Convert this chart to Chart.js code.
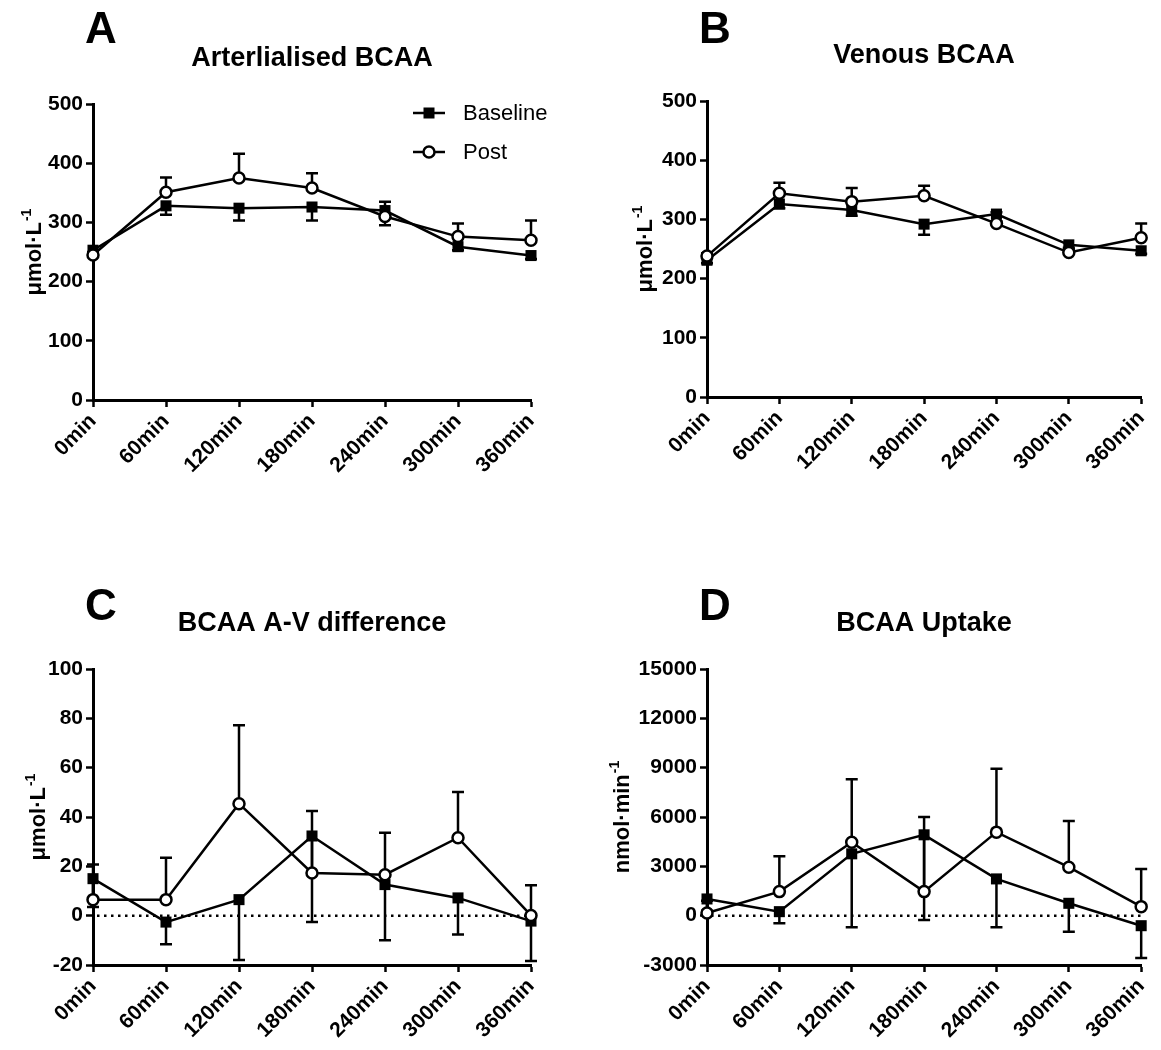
<!DOCTYPE html>
<html lang="en">
<head>
<meta charset="UTF-8">
<title>BCAA</title>
<script src="https://cdn.jsdelivr.net/npm/chart.js"></script>
<style>
    body { margin: 0; background: #fff; }
    #wrap { position: relative; width: 1161px; height: 1050px; }
    canvas { position: absolute; }
</style>
</head>
<body>
<div id="wrap">
    <canvas id="chartA" width="580" height="525" style="left:0;top:0"></canvas>
    <canvas id="chartB" width="581" height="525" style="left:580px;top:0"></canvas>
    <canvas id="chartC" width="580" height="525" style="left:0;top:525px"></canvas>
    <canvas id="chartD" width="581" height="525" style="left:580px;top:525px"></canvas>
</div>
<script>
const timeLabels = ['0min', '60min', '120min', '180min', '240min', '300min', '360min'];

// A - arterialised BCAA (umol/L); Baseline bars go down, Post bars go up
const artBase = [253, 328, 324, 326, 320, 259, 244];
const artBaseLow = [247, 313, 303, 303, 295, 253, 238];
const artPost = [245, 351, 375, 358, 310, 276, 270];
const artPostHigh = [250, 376, 416, 383, 335, 298, 303];

// B - venous BCAA
const venBase = [231, 326, 316, 292, 309, 257, 247];
const venBaseLow = [226, 319, 306, 274, 297, 250, 242];
const venPost = [238, 344, 330, 340, 293, 244, 269];
const venPostHigh = [243, 362, 353, 357, 312, 252, 293];

// C - A-V difference
const avBase = [15, -2.6, 6.5, 32.3, 12.6, 7.2, -2.2];
const avBaseLow = [3.5, -11.6, -18, -2.6, -10, -7.6, -18.4];
const avPost = [6.5, 6.5, 45.4, 17.3, 16.6, 31.6, 0.1];
const avPostHigh = [20.7, 23.5, 77.2, 42.4, 33.6, 50.1, 12.3];

// D - uptake (nmol/min)
const upBase = [1016, 244, 3760, 4917, 2235, 752, -610];
const upBaseLow = [300, -467, -711, -264, -711, -975, -2580];
const upPost = [163, 1463, 4470, 1463, 5079, 2946, 549];
const upPostHigh = [900, 3616, 8289, 5993, 8940, 5750, 2844];

const FONT = '"Liberation Sans", Arial, sans-serif';
Chart.defaults.font.family = FONT;
Chart.defaults.color = '#000';

const panels = [
    { id: 'chartA', letter: 'A', title: 'Arterlialised BCAA', yTitle: '\u03bcmol\u00b7L', ySup: '-1',
      min: 0, max: 500, step: 100, base: artBase, baseLow: artBaseLow, post: artPost, postHigh: artPostHigh,
      area: { left: 93, top: 104, right: 531, bottom: 400 }, letterY: 43, yTitleGap: 52, zero: false, legend: true },
    { id: 'chartB', letter: 'B', title: 'Venous BCAA', yTitle: '\u03bcmol\u00b7L', ySup: '-1',
      min: 0, max: 500, step: 100, base: venBase, baseLow: venBaseLow, post: venPost, postHigh: venPostHigh,
      area: { left: 127, top: 101, right: 566, bottom: 397 }, letterY: 43, yTitleGap: 55, zero: false, legend: false },
    { id: 'chartC', letter: 'C', title: 'BCAA A-V difference', yTitle: '\u03bcmol\u00b7L', ySup: '-1',
      min: -20, max: 100, step: 20, base: avBase, baseLow: avBaseLow, post: avPost, postHigh: avPostHigh,
      area: { left: 93, top: 144, right: 531, bottom: 440 }, letterY: 95, yTitleGap: 48, zero: true, legend: false },
    { id: 'chartD', letter: 'D', title: 'BCAA Uptake', yTitle: 'nmol\u00b7min', ySup: '-1',
      min: -3000, max: 15000, step: 3000, base: upBase, baseLow: upBaseLow, post: upPost, postHigh: upPostHigh,
      area: { left: 127, top: 144, right: 567, bottom: 440 }, letterY: 95, yTitleGap: 78, zero: true, legend: false }
];

function drawMarker(ctx, style, x, y) {
    ctx.beginPath();
    if (style === 'rect') {
        ctx.fillStyle = '#000';
        ctx.fillRect(x - 5.5, y - 5.5, 11, 11);
    } else {
        ctx.arc(x, y, 5.5, 0, Math.PI * 2);
        ctx.fillStyle = '#fff';
        ctx.fill();
        ctx.lineWidth = 2.5;
        ctx.strokeStyle = '#000';
        ctx.stroke();
    }
}

const panelPlugin = {
    id: 'panelDeco',
    beforeDatasetsDraw(chart) {
        const p = chart.options.panel;
        const ctx = chart.ctx, xs = chart.scales.x, ys = chart.scales.y;
        ctx.save();
        ctx.strokeStyle = '#000';
        ctx.lineWidth = 2.5;
        // dotted zero line
        if (p.zero) {
            const y0 = ys.getPixelForValue(0);
            ctx.setLineDash([2.5, 4.5]);
            ctx.beginPath();
            ctx.moveTo(xs.left + 4, y0);
            ctx.lineTo(xs.right, y0);
            ctx.stroke();
            ctx.setLineDash([]);
        }
        // error bars
        const bars = [[p.base, p.baseLow], [p.post, p.postHigh]];
        bars.forEach(([vals, ends]) => {
            vals.forEach((v, i) => {
                const px = xs.getPixelForValue(i);
                const py = ys.getPixelForValue(v);
                const pe = ys.getPixelForValue(ends[i]);
                ctx.beginPath();
                ctx.moveTo(px, py);
                ctx.lineTo(px, pe);
                ctx.moveTo(px - 6, pe);
                ctx.lineTo(px + 6, pe);
                ctx.stroke();
            });
        });
        ctx.restore();
    },
    afterDraw(chart) {
        const p = chart.options.panel;
        const ctx = chart.ctx, a = chart.chartArea;
        ctx.save();
        ctx.fillStyle = '#000';
        // panel letter
        ctx.font = 'bold 44px ' + FONT;
        ctx.textAlign = 'left';
        ctx.textBaseline = 'alphabetic';
        ctx.fillText(p.letter, a.left - 8, p.letterY);
        // title
        ctx.font = 'bold 27px ' + FONT;
        ctx.textAlign = 'center';
        ctx.fillText(p.title, (a.left + a.right) / 2, a.top - 38);
        // y axis title with superscript
        ctx.translate(a.left - p.yTitleGap, (a.top + a.bottom) / 2);
        ctx.rotate(-Math.PI / 2);
        ctx.textAlign = 'left';
        ctx.font = 'bold 22px ' + FONT;
        const mainW = ctx.measureText(p.yTitle).width;
        ctx.font = 'bold 14px ' + FONT;
        const supW = ctx.measureText(p.ySup).width;
        const start = -(mainW + supW + 1) / 2;
        ctx.font = 'bold 22px ' + FONT;
        ctx.fillText(p.yTitle, start, 0);
        ctx.font = 'bold 14px ' + FONT;
        ctx.fillText(p.ySup, start + mainW + 1, -10);
        ctx.restore();
        // legend
        if (p.legend) {
            ctx.save();
            const items = chart.data.datasets;
            const ys = [113, 152];
            items.forEach((ds, i) => {
                ctx.strokeStyle = '#000';
                ctx.lineWidth = 2.5;
                ctx.beginPath();
                ctx.moveTo(413, ys[i]);
                ctx.lineTo(445, ys[i]);
                ctx.stroke();
                drawMarker(ctx, ds.pointStyle, 429, ys[i]);
                ctx.fillStyle = '#000';
                ctx.font = '22px ' + FONT;
                ctx.textAlign = 'left';
                ctx.textBaseline = 'middle';
                ctx.fillText(ds.label, 463, ys[i] + 1);
            });
            ctx.restore();
        }
    }
};

function makeChart(p) {
    const canvas = document.getElementById(p.id);
    const W = canvas.width, H = canvas.height;
    const tickFont = { family: FONT, size: 21, weight: 'bold' };
    const grid = { display: true, drawOnChartArea: false, drawTicks: true, tickLength: 7, tickWidth: 2.5, tickColor: '#000' };
    const border = { display: true, color: '#000', width: 3 };
    return new Chart(canvas, {
        type: 'line',
        data: {
            labels: timeLabels,
            datasets: [
                { label: 'Baseline', data: p.base, borderColor: '#000', backgroundColor: '#000', borderWidth: 2.5,
                  pointStyle: 'rect', pointRadius: 7.8, pointBorderWidth: 0, pointBackgroundColor: '#000',
                  clip: false, order: 2 },
                { label: 'Post', data: p.post, borderColor: '#000', backgroundColor: '#fff', borderWidth: 2.5,
                  pointStyle: 'circle', pointRadius: 5.5, pointBorderWidth: 2.5, pointBackgroundColor: '#fff',
                  pointBorderColor: '#000', clip: false, order: 1 }
            ]
        },
        options: {
            responsive: false,
            animation: false,
            panel: p,
            layout: { padding: { top: p.area.top, right: W - p.area.right, left: 0, bottom: 0 } },
            plugins: { legend: { display: false }, tooltip: { enabled: false } },
            scales: {
                x: {
                    type: 'category', offset: false, grid: grid, border: border,
                    ticks: { color: '#000', font: tickFont, minRotation: 45, maxRotation: 45, padding: 2, autoSkip: false },
                    afterFit: s => { s.height = H - p.area.bottom; }
                },
                y: {
                    min: p.min, max: p.max, grid: grid, border: border,
                    ticks: { color: '#000', font: tickFont, stepSize: p.step, padding: 3, callback: v => String(v) },
                    afterFit: s => { s.width = p.area.left; }
                }
            }
        },
        plugins: [panelPlugin]
    });
}

panels.forEach(makeChart);
</script>
</body>
</html>
